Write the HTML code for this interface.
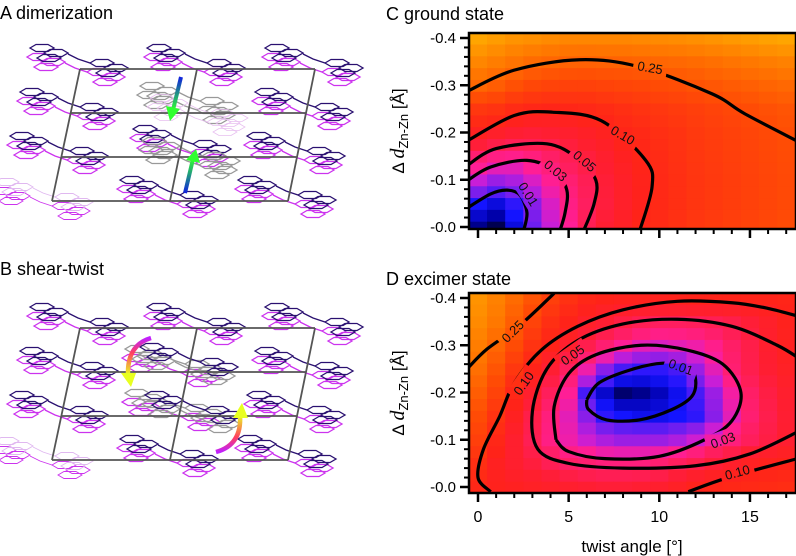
<!DOCTYPE html>
<html><head><meta charset="utf-8">
<style>
html,body{margin:0;padding:0;background:#fff;}
svg{display:block;font-family:"Liberation Sans","DejaVu Sans",sans-serif;}
</style></head>
<body>
<svg id="fig" width="796" height="556" viewBox="0 0 796 556" xmlns="http://www.w3.org/2000/svg">
<defs>
 <linearGradient id="gA1" x1="0" y1="0" x2="0" y2="1"><stop offset="0" stop-color="#1020e0"/><stop offset="1" stop-color="#30ff30"/></linearGradient>
 <linearGradient id="gA2" x1="0" y1="1" x2="0" y2="0"><stop offset="0" stop-color="#1020e0"/><stop offset="1" stop-color="#30ff30"/></linearGradient>
 <linearGradient id="gB1" x1="0" y1="0" x2="0" y2="1"><stop offset="0" stop-color="#c020ff"/><stop offset="0.4" stop-color="#ff4060"/><stop offset="1" stop-color="#e8ff20"/></linearGradient>
 <linearGradient id="gB2" x1="0" y1="1" x2="0" y2="0"><stop offset="0" stop-color="#c020ff"/><stop offset="0.4" stop-color="#ff4060"/><stop offset="1" stop-color="#e8ff20"/></linearGradient>
 <clipPath id="clipC"><rect x="469" y="33" width="327" height="196"/></clipPath>
 <clipPath id="clipD"><rect x="469" y="293" width="327" height="200"/></clipPath>
</defs>
<g id="left"></g>
<g id="panelC"></g>
<g id="panelD"></g>
<text x="0" y="19" font-size="18">A dimerization</text>
<text x="0" y="275" font-size="18">B shear-twist</text>
<text x="386" y="20" font-size="18">C ground state</text>
<text x="386" y="285" font-size="18">D excimer state</text>
<text x="632" y="552" font-size="17" text-anchor="middle">twist angle [°]</text>
</svg>
<script>
// ---------------- data ----------------
const twistCols = [0,1,2,3,4,5,6,7,8,9,10,11,12,13,14,15,16,17];
const dRows = [0,-0.05,-0.1,-0.15,-0.2,-0.25,-0.3,-0.35,-0.4];
const xTicks = [0,5,10,15];
const yTicks = [-0.0,-0.1,-0.2,-0.3,-0.4];
const yTickLabels = ["-0.0","-0.1","-0.2","-0.3","-0.4"];
const groundGrid = [
 [.002,0,.006,.015,.025,.035,.055,.07,.085,.105,.12,.135,.15,.16,.17,.18,.19,.2],
 [.008,.006,.01,.018,.028,.04,.05,.065,.08,.095,.115,.13,.145,.155,.165,.175,.185,.195],
 [.025,.02,.022,.028,.036,.045,.055,.068,.082,.098,.115,.13,.145,.155,.165,.175,.185,.195],
 [.045,.04,.038,.042,.048,.055,.065,.075,.09,.105,.12,.135,.15,.16,.17,.18,.19,.2],
 [.09,.08,.07,.068,.07,.075,.083,.092,.105,.115,.13,.14,.155,.165,.175,.185,.195,.205],
 [.15,.14,.12,.11,.105,.108,.112,.12,.13,.14,.15,.16,.17,.18,.19,.2,.21,.22],
 [.26,.24,.21,.19,.18,.175,.175,.18,.185,.19,.2,.205,.215,.225,.235,.245,.255,.265],
 [.33,.31,.29,.27,.26,.25,.248,.25,.252,.255,.26,.265,.27,.28,.29,.3,.31,.32],
 [.4,.38,.36,.35,.34,.33,.33,.33,.33,.335,.34,.345,.35,.36,.37,.38,.39,.4]
];
const excimerGrid = [
 [.11,.095,.09,.085,.08,.075,.07,.068,.068,.07,.075,.085,.097,.105,.11,.115,.12,.125],
 [.13,.09,.075,.065,.055,.048,.045,.042,.042,.042,.045,.05,.058,.068,.078,.088,.095,.1],
 [.17,.11,.075,.055,.04,.032,.026,.022,.02,.02,.02,.022,.026,.033,.042,.052,.062,.072],
 [.2,.14,.09,.06,.042,.03,.018,.01,.008,.007,.007,.008,.01,.018,.03,.045,.058,.07],
 [.24,.18,.11,.075,.052,.035,.012,.005,.001,.002,.004,.007,.012,.02,.033,.048,.062,.075],
 [.28,.22,.15,.1,.07,.05,.032,.018,.012,.01,.01,.012,.02,.03,.045,.058,.07,.085],
 [.31,.26,.2,.14,.1,.075,.058,.045,.035,.03,.028,.03,.032,.038,.048,.06,.075,.09],
 [.34,.3,.24,.18,.13,.1,.08,.07,.062,.055,.05,.05,.052,.055,.06,.068,.08,.095],
 [.36,.32,.27,.22,.17,.135,.11,.1,.095,.095,.095,.098,.1,.1,.1,.1,.1,.105]
];
// contours: points [twist, d]; label [twist, d, angle]
const groundC01 = [[-0.6,-0.04],[0.7,-0.07],[1.6,-0.078],[2.3,-0.068],[2.7,-0.03],[2.5,0.01]];
const groundC03 = [[-0.6,-0.098],[0.7,-0.127],[2.7,-0.141],[4.2,-0.12],[4.9,-0.078],[4.8,-0.03],[4.5,0.01]];
const groundC05 = [[-0.6,-0.13],[1.0,-0.166],[3.8,-0.176],[5.5,-0.145],[6.5,-0.099],[6.4,-0.049],[5.8,0.01]];
const groundC10 = [[-0.6,-0.182],[2,-0.236],[4.1,-0.243],[6.8,-0.225],[9.25,-0.141],[9.6,-0.085],[8.9,0.01]];
const groundC25 = [[-0.6,-0.287],[2,-0.332],[5.6,-0.354],[8.9,-0.339],[12.9,-0.282],[14.7,-0.24],[17.8,-0.178]];
const groundLabels = [[2.8,-0.07,58,"0.01"],[4.3,-0.12,40,"0.03"],[5.9,-0.14,40,"0.05"],[8.0,-0.195,30,"0.10"],[9.5,-0.338,10,"0.25"]];
const excC01 = [[6,-0.185],[6.7,-0.221],[8.5,-0.249],[10.2,-0.262],[11.6,-0.255],[12,-0.228],[11.8,-0.192],[10.7,-0.164],[8.9,-0.142],[7.1,-0.142],[6.1,-0.164],[6,-0.185]];
const excC03 = [[4.3,-0.1],[4.2,-0.17],[5,-0.24],[6.5,-0.28],[9,-0.3],[11.5,-0.29],[13.5,-0.26],[14.5,-0.2],[14,-0.14],[12.5,-0.1],[10,-0.065],[7,-0.06],[5,-0.075],[4.3,-0.1]];
const excC05 = [[17.8,-0.12],[15,-0.07],[12,-0.045],[8,-0.04],[5,-0.05],[3.3,-0.08],[3,-0.16],[3.8,-0.25],[5.5,-0.31],[8,-0.345],[11,-0.355],[14,-0.34],[16.5,-0.3],[17.8,-0.27]];
const excC10a = [[0.7,0.01],[0,-0.02],[0.3,-0.08],[1.2,-0.15],[2,-0.22],[3.5,-0.29],[5.5,-0.34],[8,-0.375],[11,-0.393],[14,-0.39],[16,-0.378],[17.8,-0.36]];
const excC10b = [[11.6,0.01],[13.8,-0.02],[17.8,-0.062]];
const excC25 = [[-0.6,-0.25],[0.5,-0.292],[2.3,-0.342],[4.2,-0.41]];
const excLabels = [[11.2,-0.255,20,"0.01"],[13.5,-0.1,-20,"0.03"],[5.2,-0.28,-35,"0.05"],[2.5,-0.22,-55,"0.10"],[14.3,-0.032,-15,"0.10"],[1.9,-0.33,-45,"0.25"]];

// ---------------- helpers ----------------
const NS="http://www.w3.org/2000/svg";
function mk(tag,attrs,parent){const e=document.createElementNS(NS,tag);for(const k in attrs)e.setAttribute(k,attrs[k]);if(parent)parent.appendChild(e);return e;}
const xs = t => 478 + t*18.13;
function ysFactory(y0){ return d => y0 + d/0.4*189; }
const stops=[[0,[0,0,80]],[0.003,[0,0,170]],[0.008,[20,20,255]],[0.015,[110,30,240]],[0.025,[200,30,215]],[0.035,[255,30,150]],[0.05,[255,30,95]],[0.07,[255,30,50]],[0.1,[255,35,25]],[0.2,[255,75,5]],[0.3,[255,120,0]],[0.4,[255,165,0]]];
function cmap(v){
 if(v<=stops[0][0])return 'rgb(0,0,80)';
 for(let i=1;i<stops.length;i++){ if(v<=stops[i][0]){const a=stops[i-1],b=stops[i];const f=(v-a[0])/(b[0]-a[0]);const c=a[1].map((x,j)=>Math.round(x+(b[1][j]-x)*f));return `rgb(${c})`;} }
 return 'rgb(255,165,0)';
}
function gridVal(grid,t,d){
 let r=-d/0.05; r=Math.max(0,Math.min(dRows.length-1,r)); const r0=Math.floor(r), r1=Math.min(dRows.length-1,r0+1), fr=r-r0;
 let c=Math.max(0,Math.min(twistCols.length-1,t)); const c0=Math.floor(c), c1=Math.min(twistCols.length-1,c0+1), fc=c-c0;
 const a=grid[r0][c0]*(1-fc)+grid[r0][c1]*fc, b=grid[r1][c0]*(1-fc)+grid[r1][c1]*fc;
 return a*(1-fr)+b*fr;
}
function smoothPath(pts,xf,yf){
 const P=pts.map(p=>[xf(p[0]),yf(p[1])]);
 let s=`M${P[0][0]},${P[0][1]}`;
 for(let i=0;i<P.length-1;i++){const p0=P[Math.max(0,i-1)],p1=P[i],p2=P[i+1],p3=P[Math.min(P.length-1,i+2)];
  s+=` C${p1[0]+(p2[0]-p0[0])/6},${p1[1]+(p2[1]-p0[1])/6} ${p2[0]-(p3[0]-p1[0])/6},${p2[1]-(p3[1]-p1[1])/6} ${p2[0]},${p2[1]}`;}
 return s;
}
function drawPanel(g,grid,contours,labels,y0,clipId,maskId,showX){
 const ys=ysFactory(y0);
 const hm=mk('g',{'clip-path':`url(#${clipId})`},g);
 
 
 const ch=0.025;
 for(let ti=0;ti<twistCols.length;ti++){
  for(let k=0;k<=17;k++){
   const t=twistCols[ti], d=-k*ch;
   const v=gridVal(grid,t,d);
   const r=mk('rect',{x:xs(t-0.5),y:ys(d-ch/2),width:18.6,height:ch/0.4*189+0.6,fill:cmap(v)},hm);
   
   
  }
 }
 const defs=document.querySelector('defs');
 const m=mk('mask',{id:maskId},defs);
 mk('rect',{x:0,y:0,width:796,height:556,fill:'#fff'},m);
 labels.forEach(L=>{const x=xs(L[0]),y=ys(L[1]);mk('rect',{x:x-17,y:y-9,width:34,height:18,fill:'#000',transform:`rotate(${L[2]} ${x} ${y})`},m);});
 const cg=mk('g',{'clip-path':`url(#${clipId})`},g);
 const cg2=mk('g',{mask:`url(#${maskId})`},cg);
 contours.forEach(c=>{const p=mk('path',{d:smoothPath(c,xs,ys),fill:'none',stroke:'#000','stroke-width':3.2},cg2);
  
  });
 labels.forEach(L=>{const x=xs(L[0]),y=ys(L[1]);const t=mk('text',{x:x,y:y+5,'font-size':13,'text-anchor':'middle',fill:'#111',transform:`rotate(${L[2]} ${x} ${y})`},cg);t.textContent=L[3];
  
  });
 const fy=clipId==='clipC'?33:293, fh=clipId==='clipC'?196:200;
 const fr=mk('rect',{x:469,y:fy,width:327,height:fh,fill:'none',stroke:'#000','stroke-width':2.5},g);
 
 
 for(let v=0;v<=0.4001;v+=0.02){const y=ys(-v);const major=Math.abs(v*10-Math.round(v*10))<1e-6;
  mk('line',{x1:469,x2:major?460:464,y1:y,y2:y,stroke:'#000','stroke-width':major?2.5:2},g);}
 yTicks.forEach((v,i)=>{const t=mk('text',{x:456,y:ys(v)+5,'font-size':15,'text-anchor':'end'},g);t.textContent=yTickLabels[i];
  
  });
 const by=fy+fh;
 for(let t=0;t<=17;t++){const major=t%5===0;mk('line',{x1:xs(t),x2:xs(t),y1:by,y2:by+(major?9:5),stroke:'#000','stroke-width':major?2.5:2},g);}
 if(showX){xTicks.forEach(v=>{const t=mk('text',{x:xs(v),y:by+29,'font-size':16,'text-anchor':'middle'},g);t.textContent=String(v);
  
  });}
 const cy=(fy+fh/2);
 const yt=mk('text',{x:0,y:0,'font-size':17,'text-anchor':'middle',transform:`translate(404 ${cy}) rotate(-90)`},g);
 yt.innerHTML='Δ <tspan font-family="Liberation Serif,serif" font-style="italic" font-size="20">d</tspan><tspan font-size="13" dy="4">Zn-Zn</tspan><tspan dy="-4"> [Å]</tspan>';
 
 
}
drawPanel(document.getElementById('panelC'),groundGrid,[groundC01,groundC03,groundC05,groundC10,groundC25],groundLabels,227,'clipC','maskC',false);
drawPanel(document.getElementById('panelD'),excimerGrid,[excC01,excC03,excC05,excC10a,excC10b,excC25],excLabels,487,'clipD','maskD',true);

// ---------------- crystal structure illustrations ----------------
const L=document.getElementById('left');
function hex(g,cx,cy,col,w){const W=12,H=3.5;const pts=[[cx-W,cy],[cx-W/2,cy-H],[cx+W/2,cy-H],[cx+W,cy],[cx+W/2,cy+H],[cx-W/2,cy+H]];mk('polygon',{points:pts.map(p=>p.join(',')).join(' '),fill:'none',stroke:col,'stroke-width':w},g);}
function half(g,ox,oy,col,w){
 hex(g,ox-38,oy-14,col,w);hex(g,ox-24,oy-9,col,w);hex(g,ox-31,oy-4,col,w);
 mk('polyline',{points:`${ox-12},${oy-8} ${ox-2},${oy-3} ${ox+10},${oy+1}`,fill:'none',stroke:col,'stroke-width':w},g);
 hex(g,ox+22,oy+1,col,w);hex(g,ox+36,oy+6,col,w);hex(g,ox+28,oy+11,col,w);
}
function molecule(cx,cy,dark,mag,w){
 const g=mk('g',{},L);
 
 
 half(g,cx-3,cy+9,mag,w);half(g,cx,cy,dark,w);
}
function cellGrid(oy){
 const g=mk('g',{stroke:'#555','stroke-width':1.8,fill:'none'},L);
 
 
 mk('line',{x1:80,y1:69+oy,x2:315,y2:69+oy},g);mk('line',{x1:52,y1:201+oy,x2:288,y2:201+oy},g);
 mk('line',{x1:70,y1:113+oy,x2:306,y2:113+oy},g);mk('line',{x1:61,y1:157+oy,x2:297,y2:157+oy},g);
 [[80,52],[197,170],[315,288]].forEach(a=>mk('line',{x1:a[0],y1:69+oy,x2:a[1],y2:201+oy},g));
}
[0,259].forEach((oy,pi)=>{
 const D='#2a1070',M='#cc33ee';
 [[80,62],[197,62],[315,62],[70,106],[305,106],[60,150],[297,150],[170,194],[288,194]].forEach(p=>molecule(p[0],p[1]+oy,D,M,1.3));
 molecule(45,196+oy,'#e0b8f0','#cc33ee',0.9);
 if(pi===0){molecule(190,100+oy,'#999','#999',1.3);molecule(183,143+oy,D,M,1.3);molecule(192,155+oy,'#999','#999',1.3);molecule(200,112+oy,'#e8c0f0','#e8c0f0',0.8);}
 else{molecule(175,104+oy,'#999',M,1.3);molecule(190,102+oy,D,'#999',1.3);molecule(175,148+oy,'#999',M,1.3);molecule(195,150+oy,D,'#999',1.3);}
 cellGrid(oy);
});
const ar=mk('g',{},L);


mk('line',{x1:181,y1:77,x2:173,y2:110,stroke:'url(#gA1)','stroke-width':4},ar);
mk('polygon',{points:'166,106 180,109 170,121',fill:'#30ff30'},ar);
mk('line',{x1:185,y1:193,x2:193,y2:159,stroke:'url(#gA2)','stroke-width':4},ar);
mk('polygon',{points:'186,160 200,163 196,149',fill:'#30ff30'},ar);
mk('path',{d:'M151,338 Q127,345 128,375',fill:'none',stroke:'url(#gB1)','stroke-width':4.5},ar);
mk('polygon',{points:'121,373 136,373 131,387',fill:'#e8ff20'},ar);
mk('path',{d:'M216,452 Q242,445 240,415',fill:'none',stroke:'url(#gB2)','stroke-width':4.5},ar);
mk('polygon',{points:'233,418 248,418 242,403',fill:'#e8ff20'},ar);
</script>
</body></html>
